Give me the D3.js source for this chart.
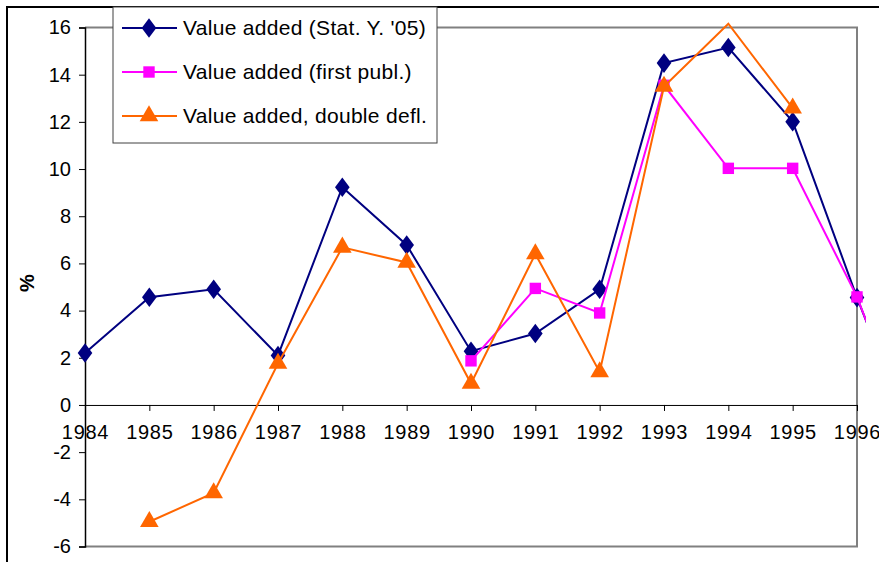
<!DOCTYPE html>
<html><head><meta charset="utf-8">
<script src="https://cdn.jsdelivr.net/npm/d3@7"></script>
<style>body{margin:0;background:#fff}svg{display:block;font-family:"Liberation Sans",Arial,sans-serif}</style>
</head><body><svg id="c" width="879" height="562"></svg>
<script>
const years = [1984,1985,1986,1987,1988,1989,1990,1991,1992,1993,1994,1995,1996,1997];
const statY05 = [2.2,4.57,4.9,2.1,9.23,6.78,2.28,3.03,4.9,14.49,15.15,12.01,4.55,-2.4];
const firstPubl = [null,null,null,null,null,null,1.87,4.94,3.9,13.55,10.03,10.03,4.58,-2.5];
const doubleDefl = [null,-4.95,-3.73,1.76,6.68,6.04,0.91,6.4,1.4,13.5,16.16,12.58,null,null];
const seriesNames = ["Value added (Stat. Y. '05)","Value added (first publ.)","Value added, double defl."];
const yTicks = [-6,-4,-2,0,2,4,6,8,10,12,14,16];
const xTicks = [1984,1985,1986,1987,1988,1989,1990,1991,1992,1993,1994,1995,1996];

const svg = d3.select("#c");
const x = d3.scaleLinear().domain([1984,1996]).range([85,857]);
const y = d3.scaleLinear().domain([-6,16]).range([546.5,27.5]);

// outer border
svg.append("path").attr("d","M7,562V7H879").attr("fill","none").attr("stroke","#000").attr("stroke-width",2);

// plot area border (gray)
svg.append("path").attr("d",`M${x(1984)},${y(16)}H${x(1996)}V${y(-6)}H${x(1984)}`)
  .attr("fill","none").attr("stroke","#808080").attr("stroke-width",2);

// y axis
const yAxis = d3.axisLeft(y).tickValues(yTicks).tickSize(6).tickPadding(8).tickFormat(d=>String(d));
const gy = svg.append("g").attr("transform",`translate(${x(1984)},0)`).call(yAxis);
gy.select(".domain").attr("stroke","#000").attr("stroke-width",1.5);
gy.selectAll(".tick line").attr("stroke","#000");
gy.selectAll("text").attr("font-size",20).attr("font-family","Liberation Sans, Arial, sans-serif").attr("fill","#000");

// x axis at zero
const xAxis = d3.axisBottom(x).tickValues(xTicks).tickSize(6).tickPadding(14).tickFormat(d=>String(d));
const gx = svg.append("g").attr("transform",`translate(0,${y(0)})`).call(xAxis);
gx.select(".domain").attr("stroke","#000").attr("stroke-width",1);
gx.selectAll(".tick line").attr("stroke","#000");
gx.selectAll("text").attr("font-size",20).attr("letter-spacing","0.7px").attr("font-family","Liberation Sans, Arial, sans-serif").attr("fill","#000");

// y label
svg.append("text").attr("transform","translate(34,283) rotate(-90)").attr("text-anchor","middle")
  .attr("font-size",20).attr("font-weight","bold").text("%");

// clip
svg.append("clipPath").attr("id","clip").append("rect").attr("x",0).attr("y",0).attr("width",866).attr("height",562);

const colors = ["#000080","#FF00FF","#FF6600"];
const shapes = [d3.symbolDiamond, d3.symbolSquare, d3.symbolTriangle];
const sizes = [110,130,150];
const allSeries = [statY05, firstPubl, doubleDefl];

const line = d3.line().defined(d=>d.v!==null).x(d=>x(d.year)).y(d=>y(d.v));
const g = svg.append("g").attr("clip-path","url(#clip)");
allSeries.forEach((vals,i)=>{
  const data = years.map((yr,j)=>({year:yr,v:vals[j]}));
  g.append("path").datum(data).attr("d",line).attr("fill","none")
    .attr("stroke",colors[i]).attr("stroke-width",2);
  g.selectAll(null).data(data.filter(d=>d.v!==null && d.v<=16 && d.year<=1996)).enter()
    .append("path")
    .attr("d",d3.symbol().type(shapes[i]).size(sizes[i]))
    .attr("transform",d=>`translate(${x(d.year)},${y(d.v)})`+(i===0?" scale(1.3,1)":""))
    .attr("fill",colors[i]);
});

// legend
const lg = svg.append("g");
lg.append("rect").attr("x",113).attr("y",7).attr("width",324).attr("height",136)
  .attr("fill","#fff").attr("stroke","#404040").attr("stroke-width",1);
seriesNames.forEach((n,i)=>{
  const yy = 28 + i*44;
  lg.append("line").attr("x1",122).attr("x2",177).attr("y1",yy).attr("y2",yy).attr("stroke",colors[i]).attr("stroke-width",2);
  lg.append("path").attr("d",d3.symbol().type(shapes[i]).size(sizes[i]))
    .attr("transform",`translate(149,${yy})`+(i===0?" scale(1.3,1)":"")).attr("fill",colors[i]);
  lg.append("text").attr("x",183).attr("y",yy+7).attr("font-size",21).attr("letter-spacing","0.3px").text(n);
});
</script></body></html>
